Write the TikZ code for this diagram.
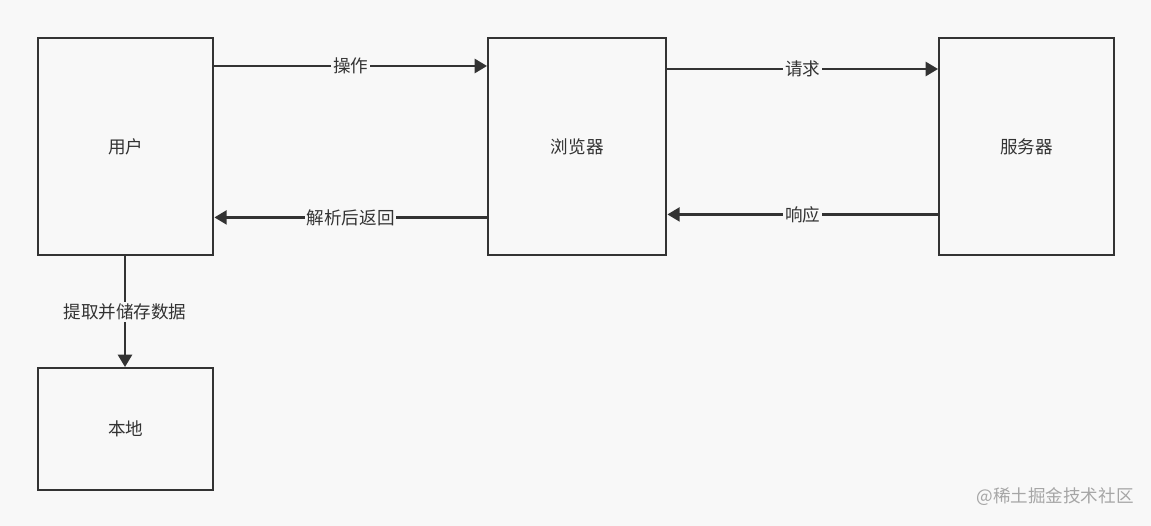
\documentclass[tikz,border=0pt]{standalone}
\usepackage{fontspec}
\newfontfamily\cjk{Noto Sans CJK SC}
\usetikzlibrary{arrows.meta,calc}
\definecolor{bgc}{HTML}{F8F8F8}
\definecolor{ink}{HTML}{333333}
\tikzset{
  box/.style={draw=ink,line width=1.4pt,fill=bgc,minimum width=3.5cm,anchor=north west,font=\cjk\fontsize{10}{12}\selectfont,text=ink},
  flow/.style={draw=ink,line width=1.3pt,-{Triangle[length=7pt,width=8pt]}},
  lbl/.style={fill=bgc,inner sep=1pt,font=\cjk\fontsize{10}{12}\selectfont,text=ink}
}
\begin{document}
\begin{tikzpicture}[x=0.02cm,y=-0.02cm]
  % canvas
  \fill[bgc] (0,0) rectangle (1151,526);
  \useasboundingbox (0,0) rectangle (1151,526);

  % boxes
  \node[box,minimum width=3.5cm,minimum height=4.34cm] (user) at (37,37) {用户};
  \node[box,minimum width=3.56cm,minimum height=4.34cm] (browser) at (487,37) {浏览器};
  \node[box,minimum width=3.5cm,minimum height=4.34cm] (server) at (938,37) {服务器};
  \node[box,minimum width=3.5cm,minimum height=2.44cm] (local) at (37,367) {本地};

  % arrows
  \draw[flow] ($(user.north east)+(0,29)$) -- node[lbl] {操作} ($(browser.north west)+(0,29)$);
  \draw[flow] ($(browser.north east)+(0,32)$) -- node[lbl] {请求} ($(server.north west)+(0,32)$);
  \draw[flow] ($(server.south west)+(0,-42)$) -- node[lbl] {响应} ($(browser.south east)+(0,-42)$);
  \draw[flow] ($(browser.south west)+(0,-39)$) -- node[lbl] {解析后返回} ($(user.south east)+(0,-39)$);
  \draw[flow] ($(user.south west)+(88,0)$) -- node[lbl,pos=0.5] {提取并储存数据} ($(local.north west)+(88,0)$);

  % watermark
  \node[font=\cjk\fontsize{10}{12}\selectfont,text=gray!70] (mark) at (1055,497) {@稀土掘金技术社区};
\end{tikzpicture}
\end{document}
